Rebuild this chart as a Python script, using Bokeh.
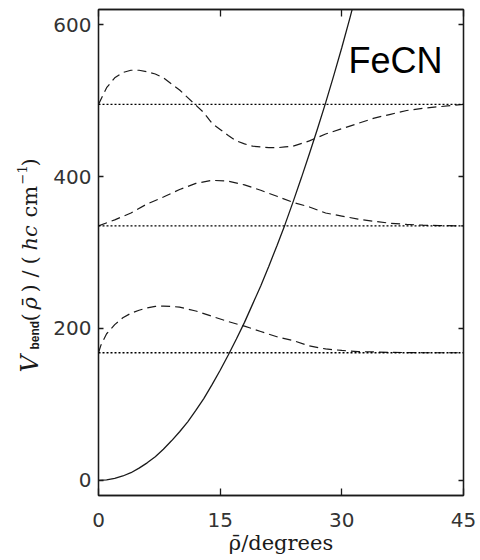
import math
from bokeh.plotting import figure
from bokeh.models import Range1d, FixedTicker, LinearAxis, Label, Span
from bokeh.layouts import row
from bokeh.core.properties import value
from bokeh.embed import file_html
from bokeh.resources import INLINE

# ---------------- data ----------------
x_ticks = [0, 15, 30, 45]
y_ticks = [0, 200, 400, 600]
x_lim = (0, 45)
y_lim = (-20, 620)

# bending potential V(rho)
pot_rho = [0, 1, 2, 3, 4, 5, 6, 7, 8, 9, 10, 11, 12, 13, 14, 15, 16,
           17, 18, 19, 20, 21, 22, 23, 24, 25, 26, 27, 28, 29, 30, 31, 32]
pot_V = [0, 0.6, 2.5, 5.7, 10, 16, 23, 31, 41, 52, 64, 77, 92, 108, 126, 145, 165,
         186, 208, 232, 256, 282, 309, 337, 367, 398, 430, 463, 497, 533, 570, 609, 650]

# vibrational energy levels
levels = [168, 335, 495]

# wavefunctions drawn on top of the levels
wf0_rho = [0, 0.3, 1, 2, 3, 4, 5, 6, 7, 8, 9, 10, 12, 14, 16, 18, 20, 22, 24, 26, 28, 30, 32, 34, 36, 38, 40, 42, 45]
wf0_V = [168, 178, 193, 205, 214, 220, 224, 227, 229, 229.5, 229, 228, 223, 216, 209, 203, 196, 189, 184, 177, 173, 171, 169.5, 169, 168.5, 168.2, 168, 168, 168]

wf1_rho = [0, 2, 4, 6, 8, 10, 12, 14, 16, 18, 20, 22, 24, 26, 28, 30, 32, 34, 36, 38, 40, 42, 45]
wf1_V = [335, 343, 352, 364, 373, 383, 391, 395, 394, 389, 382, 374, 366, 360, 352, 348, 344, 341, 338.5, 337, 336, 335.5, 335]

wf2_rho = [0, 1, 2, 3, 4, 5, 6, 7, 8, 9, 10, 11, 12, 13, 14, 15, 16, 17, 18, 19, 20, 21, 22, 23, 24, 26, 28, 30, 32, 34, 36, 38, 40, 42, 45]
wf2_V = [495, 517, 530, 537, 540, 540, 538, 535, 530, 522, 514, 504, 494, 484, 470, 462, 454, 447, 443, 440, 439, 438, 438, 439, 440, 447, 456, 463, 470, 477, 482, 487, 490, 492, 495]

molecule = "FeCN"
x_title = "\u03c1\u0304/degrees"

# ---------------- layout ----------------
W, H = 480, 560
LW = 48                       # width of the strip holding the rotated y title
FL, FR, FT, FB = 98, 463, 9, 495   # frame edges in page pixels


def dx(sx):
    return x_lim[0] + (sx - FL) * (x_lim[1] - x_lim[0]) / (FR - FL)


def dy(sy):
    return y_lim[0] + (FB - sy) * (y_lim[1] - y_lim[0]) / (FB - FT)


INK = "#1a1a1a"

p = figure(width=W - LW, height=H, output_backend="svg", toolbar_location=None,
           x_range=Range1d(*x_lim), y_range=Range1d(*y_lim),
           min_border_left=FL - LW, min_border_right=W - FR,
           min_border_top=FT, min_border_bottom=H - FB)
p.grid.visible = False
p.outline_line_color = INK
p.outline_line_width = 1.3
p.background_fill_color = "white"
p.border_fill_color = "white"


def style_axis(ax, ticks, tick_len, show_labels, standoff):
    ax.ticker = FixedTicker(ticks=ticks)
    ax.major_tick_in = tick_len
    ax.major_tick_out = 0
    ax.minor_tick_in = 0
    ax.minor_tick_out = 0
    ax.major_tick_line_color = INK
    ax.major_tick_line_width = 1.3
    ax.axis_line_color = INK
    ax.axis_line_width = 1.3
    ax.major_label_standoff = standoff
    if show_labels:
        ax.major_label_text_font = "DejaVu Sans"
        ax.major_label_text_font_size = "20px"
        ax.major_label_text_color = "#333333"
    else:
        ax.major_label_overrides = {t: "" for t in ticks}
        ax.major_label_text_font_size = "0px"


style_axis(p.xaxis[0], x_ticks, 7, True, 17)
style_axis(p.yaxis[0], y_ticks, 5, True, 7)
p.xaxis[0].axis_label = x_title
p.xaxis[0].axis_label_text_font = "DejaVu Serif"
p.xaxis[0].axis_label_text_font_style = "normal"
p.xaxis[0].axis_label_text_font_size = "21px"
p.xaxis[0].axis_label_text_color = INK
p.xaxis[0].axis_label_standoff = 1

top_ax = LinearAxis()
style_axis(top_ax, x_ticks, 7, False, 0)
p.add_layout(top_ax, "above")
right_ax = LinearAxis()
style_axis(right_ax, y_ticks, 5, False, 0)
p.add_layout(right_ax, "right")

# levels (dotted)
for lv in levels:
    p.add_layout(Span(location=lv, dimension="width", line_color="black",
                      line_dash="2 2", line_width=1.4))

# wavefunctions (dashed)
for rr, vv in [(wf0_rho, wf0_V), (wf1_rho, wf1_V), (wf2_rho, wf2_V)]:
    p.line(rr, vv, line_color=INK, line_width=1.2, line_dash="9 5")

# potential (solid)
p.line(pot_rho, pot_V, line_color=INK, line_width=1.3)

# molecule label
p.add_layout(Label(x=dx(348), y=dy(60), text=molecule, text_font="Liberation Sans",
                   text_font_size="36px", text_color="black",
                   text_baseline="alphabetic", text_align="left"))

# ---------------- rotated y title strip ----------------
ylab = figure(frame_width=LW, frame_height=H, output_backend="svg", toolbar_location=None,
              x_range=Range1d(0, LW), y_range=Range1d(0, H), min_border=0,
              x_axis_type=None, y_axis_type=None)
ylab.outline_line_color = None
ylab.background_fill_color = "white"
ylab.border_fill_color = "white"

# (text, font, style, size, baseline x, start y) in page pixels
ypieces = [
    ("V", "DejaVu Serif", "italic", "24px", 29, 363),
    ("bend", "Liberation Sans", "bold", "12px", 34, 340),
    ("(", "DejaVu Serif", "normal", "21px", 29, 312),
    ("\u03c1\u0304", "DejaVu Serif", "italic", "21px", 29, 300),
    (")", "DejaVu Serif", "normal", "21px", 29, 283),
    ("/", "DejaVu Serif", "normal", "21px", 29, 268),
    ("(", "DejaVu Serif", "normal", "21px", 29, 255),
    ("hc", "DejaVu Serif", "italic", "21px", 29, 241),
    ("cm", "DejaVu Serif", "normal", "21px", 29, 208),
    ("\u22121", "DejaVu Serif", "normal", "13px", 21, 175),
    (")", "DejaVu Serif", "normal", "21px", 29, 157),
]
for txt, fnt, sty, sz, bx, sy in ypieces:
    ylab.text(x=[bx], y=[H - sy], text=[txt], angle=math.pi / 2,
              text_font=value(fnt), text_font_style=value(sty), text_font_size=value(sz),
              text_color=INK, text_baseline=value("alphabetic"), text_align=value("left"))

layout = row(ylab, p, spacing=0)
open("out.html", "w").write(file_html(layout, INLINE))
